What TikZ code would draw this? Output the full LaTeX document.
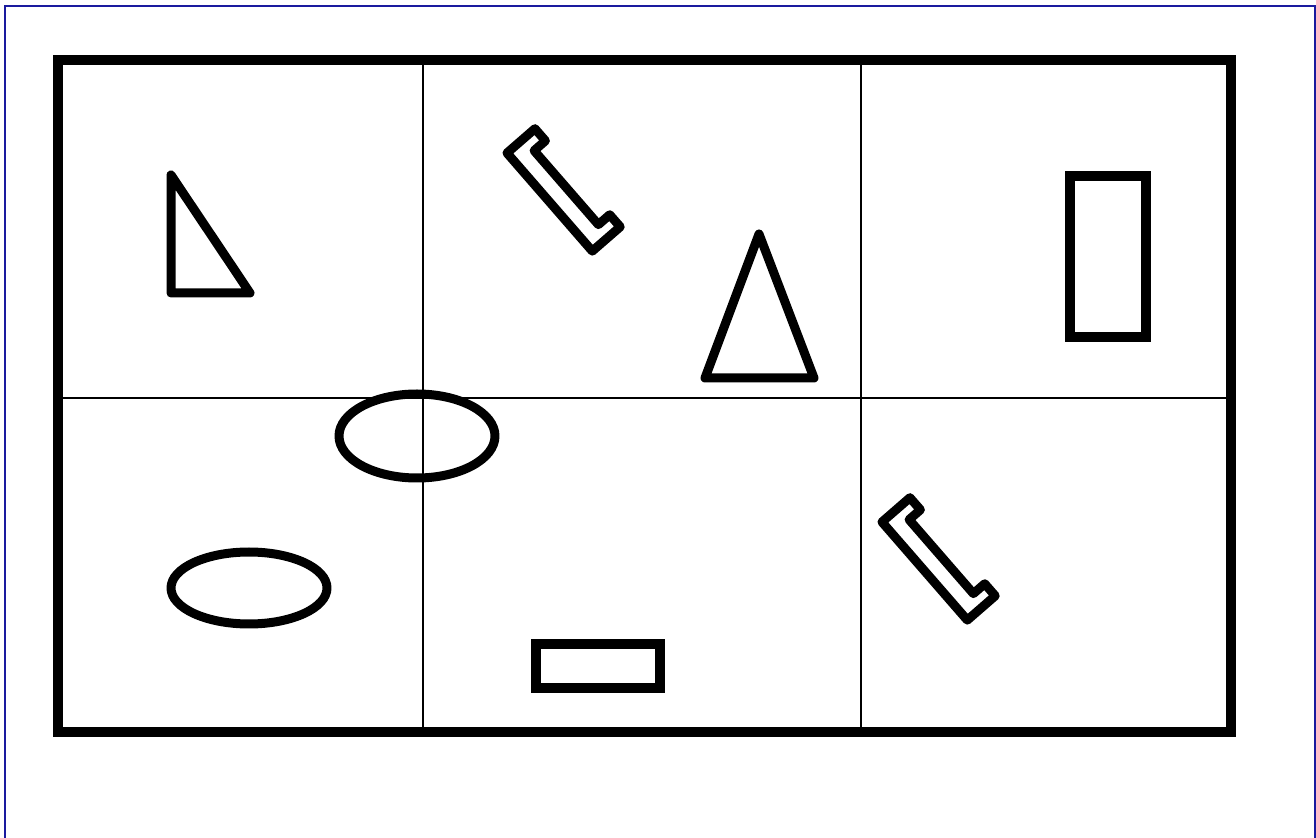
\documentclass[tikz,border=0pt]{standalone}
\usetikzlibrary{calc}
\definecolor{edgeblue}{HTML}{1A1A9E}
\tikzset{
  sheet/.style={line width=1pt, draw=edgeblue},
  board/.style={line width=5pt, draw=black},
  gridline/.style={line width=0.9pt, draw=black},
  outline/.style={line width=4.5pt, draw=black, line join=round},
  boxline/.style={line width=4.8pt, draw=black},
  clamp/.pic={
    \draw[outline] (0,0) -- (130,0) -- (130,-37) -- (114,-37) -- (114,-22)
      -- (16,-22) -- (16,-37) -- (0,-37) -- cycle;
  },
}
\begin{document}
\begin{tikzpicture}[x=0.5pt,y=-0.5pt]
  % image frame: 1316 x 838 px, y runs downward
  \path[use as bounding box] (0,0) rectangle (1316,838);
  \draw[sheet] (5,838) -- (5,6) -- (1315,6) -- (1315,838);

  % ---------------- board split into six cells ----------------
  \coordinate (nw) at (58,60);
  \coordinate (se) at (1231,732);
  \draw[gridline] (423,60) -- (423,732);
  \draw[gridline] (861,60) -- (861,732);
  \draw[gridline] (58,398) -- (1231,398);
  \draw[board] (nw) rectangle (se);

  % ---------------- top row ----------------
  \draw[outline] (171,175) -- (171,293) -- (250,293) -- cycle;
  \pic[rotate=-49] at (507,153) {clamp};
  \draw[outline] (759,234) -- (814,378) -- (705,378) -- cycle;
  \draw[boxline] (1070,176) rectangle (1146,337);

  % ---------------- bottom row ----------------
  \draw[outline] (417,436) ellipse [x radius=78, y radius=42];
  \draw[outline] (249,588) ellipse [x radius=78, y radius=36];
  \draw[boxline] (536,644) rectangle (660,688);
  \pic[rotate=-49] at (882,522) {clamp};
\end{tikzpicture}
\end{document}
